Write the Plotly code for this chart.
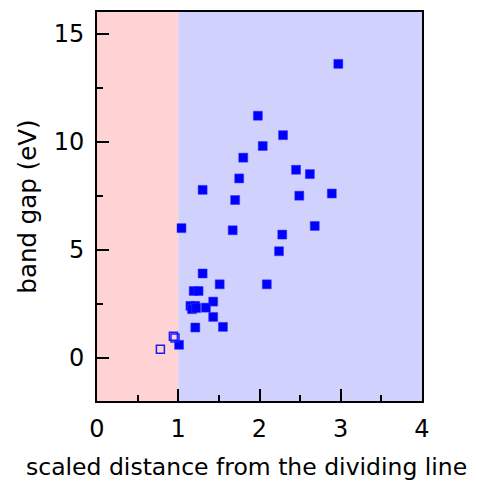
import plotly.graph_objects as go

filled_x = [1.98, 2.29, 2.04, 1.80, 2.45, 2.62, 1.75, 1.30, 1.70, 2.49, 2.89, 1.04, 1.67, 2.28,
            2.68, 2.24, 1.30, 1.51, 2.09, 1.19, 1.25, 1.43, 1.15, 1.21, 1.17, 1.22, 1.34, 1.43,
            1.21, 1.55, 1.01, 2.97]
filled_y = [11.2, 10.3, 9.8, 9.26, 8.7, 8.5, 8.3, 7.77, 7.3, 7.5, 7.6, 6.0, 5.9, 5.7,
            6.1, 4.93, 3.9, 3.4, 3.4, 3.09, 3.09, 2.6, 2.4, 2.4, 2.25, 2.3, 2.32, 1.89,
            1.4, 1.43, 0.6, 13.6]
open_x = [0.94, 0.96, 0.78]
open_y = [1.0, 0.91, 0.4]

region_bounds = [0, 1, 4]
region_colors = ["#FFD3D3", "#D1D1FD"]

x_title = "scaled distance from the dividing line"
y_title = "band gap (eV)"

FONT = "DejaVu Sans, Liberation Sans, Arial"

fig = go.Figure()
for i, c in enumerate(region_colors):
    fig.add_shape(type="rect", xref="x", yref="paper", x0=region_bounds[i], x1=region_bounds[i + 1],
                  y0=0, y1=1, fillcolor=c, line_width=0, layer="below")

fig.add_trace(go.Scatter(x=filled_x, y=filled_y, mode="markers",
                         marker=dict(symbol="square", size=9, color="#0000FF",
                                     line=dict(width=0.5, color="#3333FF"))))
fig.add_trace(go.Scatter(x=open_x, y=open_y, mode="markers",
                         marker=dict(symbol="square-open", size=8, color="#1a1aFF",
                                     line=dict(width=1.5))))

axis_common = dict(showline=True, linecolor="black", linewidth=2, mirror=True,
                   ticks="inside", tickcolor="black", tickwidth=2, ticklen=12,
                   showgrid=False, zeroline=False,
                   tickfont=dict(family=FONT, size=24, color="black"))

fig.add_annotation(text=x_title, xref="paper", yref="paper", x=0.46, y=-0.17,
                   xanchor="center", yanchor="middle", showarrow=False,
                   font=dict(family=FONT, size=23.5, color="black"))

fig.update_layout(
    width=477, height=481,
    margin=dict(l=89, r=63, t=2, b=88),
    paper_bgcolor="white", plot_bgcolor="white",
    showlegend=False,
    xaxis=dict(range=[0, 4], tickvals=[0, 1, 2, 3, 4],
               minor=dict(tickvals=[0.5, 1.5, 2.5, 3.5], ticks="inside", ticklen=6, tickwidth=2, tickcolor="black"),
               ticklabelstandoff=5,
               **axis_common),
    yaxis=dict(range=[-2, 16], tickvals=[0, 5, 10, 15],
               minor=dict(tickvals=[2.5, 7.5, 12.5], ticks="inside", ticklen=6, tickwidth=2, tickcolor="black"),
               title=dict(text=y_title, standoff=10,
                          font=dict(family=FONT, size=24.5, color="black")),
               ticklabelstandoff=6,
               **axis_common),
)

fig.write_html("out.html")
